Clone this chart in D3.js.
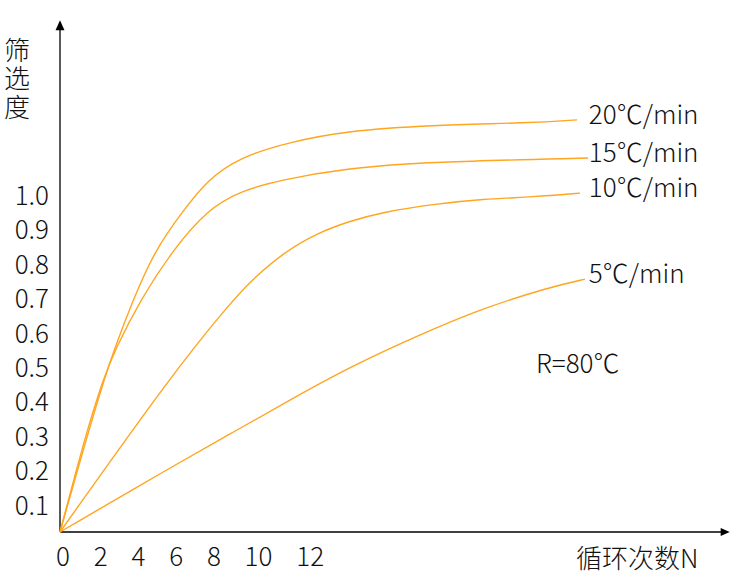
<!DOCTYPE html>
<html><head><meta charset="utf-8">
<script src="https://cdn.jsdelivr.net/npm/d3@7"></script>
<style>body{margin:0;background:#fff}svg{display:block}text{font-family:"Noto Sans CJK SC","Noto Sans",sans-serif;font-weight:300;fill:#111}</style>
</head><body><div id="chart"></div>
<script>
// ---- data ----
const xTickLabels = ["0","2","4","6","8","10","12"];
const yTickValues = [0.1,0.2,0.3,0.4,0.5,0.6,0.7,0.8,0.9,1.0];
const seriesNames = ["20℃/min","15℃/min","10℃/min","5℃/min"];
const n20 = [0,1.45,2.33,2.80,3.78,4.92,6.37,7.62,9.33,11.92,14.87,19.17,24.35,26.79];
const v20 = [0,0.288,0.451,0.529,0.674,0.820,0.933,1.023,1.090,1.134,1.166,1.183,1.189,1.198];
const n15 = [0,1.35,2.28,2.85,4.15,5.85,7.62,9.33,11.40,14.87,19.17,27.36];
const v15 = [0,0.288,0.451,0.529,0.674,0.820,0.936,0.991,1.023,1.058,1.076,1.087];
const n10 = [0,5.96,8.96,9.95,11.55,13.32,15.03,16.74,19.33,21.92,24.51,26.94];
const v10 = [0,0.471,0.674,0.733,0.811,0.869,0.904,0.930,0.953,0.968,0.974,0.985];
const n5 = [0,5.96,8.91,11.92,15.03,18.5,21.92,25.39,27.2];
const v5 = [0,0.195,0.288,0.384,0.480,0.570,0.651,0.712,0.735];
const yTitle = "筛选度";
const xTitle = "循环次数N";
const note = "R=80℃";

const W = 744, H = 585;
const svg = d3.select("#chart").append("svg").attr("width", W).attr("height", H);
const x = d3.scaleLinear().domain([0, 1]).range([60, 79.3]);
const y = d3.scaleLinear().domain([0, 1]).range([532, 188]);
const xMax = 34.7, yMax = 1.485;

// axes
svg.append("line").attr("x1", x(0)).attr("y1", y(0)).attr("x2", x(0)).attr("y2", y(yMax) + 8)
  .attr("stroke", "#000").attr("stroke-width", 1.3);
svg.append("path").attr("d", `M${x(0)},${y(yMax)-1} L${x(0)-4.5},${y(yMax)+9} L${x(0)+4.5},${y(yMax)+9} Z`).attr("fill", "#000");
svg.append("line").attr("x1", x(0)).attr("y1", y(0)).attr("x2", x(xMax) - 8).attr("y2", y(0))
  .attr("stroke", "#000").attr("stroke-width", 1.3);
svg.append("path").attr("d", `M${x(xMax)},${y(0)} L${x(xMax)-9},${y(0)-4} L${x(xMax)-9},${y(0)+4} Z`).attr("fill", "#000");

// y tick labels
svg.append("g").selectAll("text").data(yTickValues).join("text")
  .attr("x", 49).attr("y", d => y(d) + 17).attr("text-anchor", "end")
  .attr("font-size", 26).text(d => d.toFixed(1));

// x tick labels (flowing text)
const xt = svg.append("text").attr("x", 56).attr("y", 566).attr("font-size", 26);
xt.selectAll("tspan").data(xTickLabels).join("tspan")
  .attr("dx", (d, i) => i === 0 ? 0 : 23.8).text(d => d);

// y title (vertical)
svg.append("text").attr("x", 17).attr("y", 37)
  .attr("writing-mode", "vertical-rl").attr("letter-spacing", 2.5)
  .attr("font-size", 26).text(yTitle);

// x title
svg.append("text").attr("x", 576).attr("y", 568).attr("font-size", 26).text(xTitle);

// curves
const series = [[n20, v20], [n15, v15], [n10, v10], [n5, v5]];
const line = d3.line().x(d => x(d[0])).y(d => y(d[1])).curve(d3.curveBasis);
series.forEach((s, i) => {
  const pts = s[0].map((n, j) => [n, s[1][j]]);
  svg.append("path").datum(pts).attr("d", line)
    .attr("fill", "none").attr("stroke", "#FFA51F").attr("stroke-width", 1.4);
  const last = pts[pts.length - 1];
  svg.append("text").attr("x", x(27.4)).attr("y", y(last[1]) + 4)
    .attr("font-size", 26).text(seriesNames[i]);
});

svg.append("text").attr("x", x(24.66)).attr("y", 373).attr("font-size", 26).text(note);
</script></body></html>
